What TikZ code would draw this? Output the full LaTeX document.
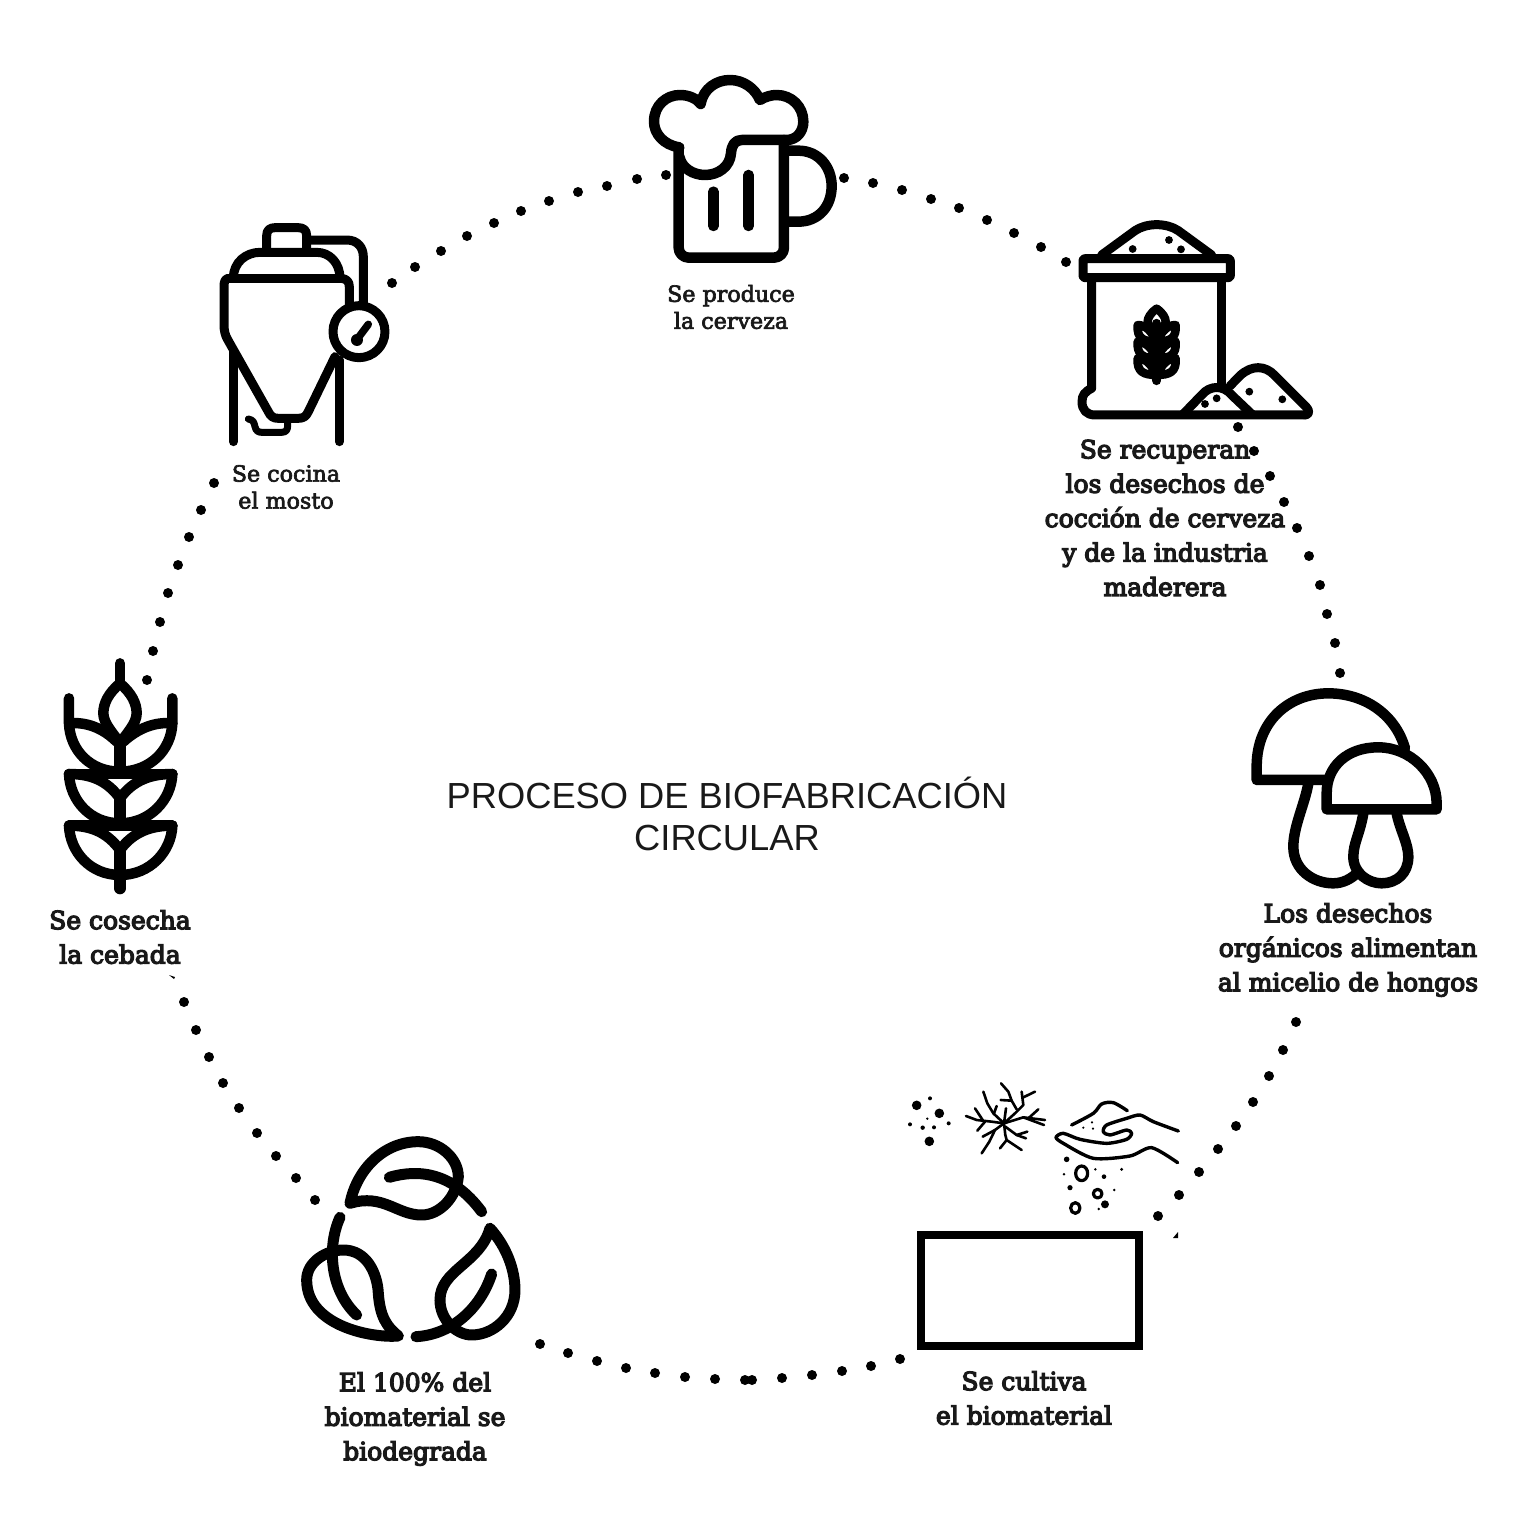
\documentclass[tikz,border=0pt]{standalone}
\usepackage{fontspec}
\setmainfont{Liberation Sans}
\newfontfamily\labf[FakeStretch=1.0,FakeBold=3]{DejaVu Serif}
\newfontfamily\labb[FakeStretch=1.0,FakeBold=5]{DejaVu Serif}
\newfontfamily\titf{Liberation Sans}
\tikzset{
  ink/.style={draw=black,line width=#1,line cap=round,line join=round},
  ink/.default=10pt,
  lab/.style={align=center,inner sep=0pt,font=\labb\fontsize{25}{34.4}\selectfont,text=black!90},
  labs/.style={align=center,inner sep=0pt,font=\labf\fontsize{22.2}{27}\selectfont,text=black!90},
  tit/.style={align=center,inner sep=0pt,font=\titf\fontsize{36.3}{42}\selectfont,text=black!90},
  dot/.style={fill=black,draw=none},
  zoomat/.style 2 args={shift={(#1,#2)},x=0.3333pt,y=-0.3333pt},
}
\begin{document}
\begin{tikzpicture}[x=1pt,y=-1pt]
\useasboundingbox[fill=white] (0,0) rectangle (1530,1537);
% dotted ring
\foreach \px/\py in {392/283,415/267,441/251,467/236,494/223,521/211,549/201,578/192,607/186,637/179,666/175,
 844/178,873/183,902/190,931/199,959/208,987/220,1014/233,1041/247,1066/262,
 1238/427,1254/451,1270/476,1284/502,1297/528,1309/556,1320/585,1327/614,1335/643,1340/673,
 1296/1022,1283/1050,1269/1076,1253/1102,1236/1126,1218/1149,1199/1172,1179/1195,1158/1216,
 900/1359,871/1366,842/1371,812/1375,782/1378,752/1380,745/1380,715/1379,685/1377,655/1373,626/1368,597/1361,568/1353,540/1344,
 315/1200,296/1178,276/1156,257/1133,239/1108,223/1083,209/1057,196/1030,184/1002,
 214/483,201/510,189/537,178/565,168/593,160/622,153/651,147/680}
  {\fill[dot] (\px,\py) circle[radius=5pt];}
\fill[dot] (1173,1238) -- (1178,1232) -- (1178,1238) -- cycle;
\fill[dot] (169,975) -- (175,977) -- (174,979) -- cycle;

% beer
\begin{scope}[zoomat={630}{60}]
\draw[ink=10.5pt] (148,262) .. controls (100,255) and (72,220) .. (72,185)
 .. controls (72,135) and (110,105) .. (150,105) .. controls (175,105) and (200,115) .. (212,132)
 .. controls (220,85) and (260,60) .. (300,60) .. controls (340,60) and (375,85) .. (390,120)
 .. controls (405,110) and (425,105) .. (440,105) .. controls (485,105) and (520,140) .. (520,185)
 .. controls (520,215) and (500,240) .. (470,240) -- (335,240)
 .. controls (315,240) and (305,255) .. (303,280) .. controls (300,320) and (265,345) .. (225,345)
 .. controls (190,345) and (155,325) .. (148,290);
\draw[ink=10.5pt,rounded corners=10pt] (146,262) -- (146,593) -- (462,593) -- (462,240);
\draw[ink=10.5pt] (465,272) -- (505,272) .. controls (565,272) and (605,320) .. (605,378)
 .. controls (605,440) and (565,485) .. (505,485) -- (465,485);
\draw[ink=10.5pt] (250,395) -- (250,498);
\draw[ink=10.5pt] (356,345) -- (356,498);
\end{scope}

% sack
\begin{scope}[zoomat={1060}{210}]
\draw[ink=9pt,rounded corners=2pt] (69,146) rectangle (511,203);
\draw[ink=9pt] (125,135) -- (225,62) .. controls (260,38) and (320,38) .. (355,62) -- (455,135);
\foreach \px/\py in {218/117,327/90,363/118,435/582,470/565,568/545,667/568}
  {\fill[dot] (\px,\py) circle[radius=3.9pt];}
\draw[ink=9pt] (95,205) -- (95,535) .. controls (75,545) and (66,555) .. (66,575)
  .. controls (66,600) and (80,615) .. (105,615) -- (735,615);
\draw[ink=9pt] (486,205) -- (486,525);
\draw[ink=9pt] (370,612) -- (425,555) .. controls (450,525) and (490,525) .. (515,555) -- (575,612);
\draw[ink=9pt] (510,528) -- (540,497) .. controls (575,465) and (615,465) .. (645,497) -- (738,590)
  .. controls (750,602) and (748,615) .. (735,615);
\draw[ink=9pt] (290,340) -- (290,512);
\draw[ink=8.5pt] (290,296) .. controls (270,310) and (263,325) .. (263,335) .. controls (263,350) and (280,365) .. (290,375)
  .. controls (300,365) and (317,350) .. (317,335) .. controls (317,325) and (310,310) .. (290,296) -- cycle;
\foreach \dy in {0,50,100}{
 \begin{scope}[yshift=-\dy*0.3333pt]
 \draw[ink=8.5pt] (290,395) .. controls (275,365) and (258,345) .. (233,345)
   .. controls (230,385) and (250,395) .. (290,395);
 \draw[ink=8.5pt] (290,395) .. controls (305,365) and (322,345) .. (347,345)
   .. controls (350,385) and (330,395) .. (290,395);
 \end{scope}
}
\end{scope}

% tank
\begin{scope}[zoomat={210}{215}]
\draw[ink=9pt] (170,105) -- (170,62) .. controls (170,45) and (180,38) .. (195,38) -- (265,38) .. controls (280,38) and (290,45) .. (290,62) -- (290,105);
\draw[ink=9pt] (70,190) .. controls (70,140) and (110,112) .. (150,112) -- (320,112) .. controls (360,112) and (390,145) .. (390,190);
\draw[ink=9pt] (55,190) -- (395,190);
\draw[ink=9pt] (55,190) .. controls (45,192) and (42,200) .. (42,215) -- (42,330) .. controls (42,345) and (45,360) .. (52,372)
  -- (175,590) .. controls (182,605) and (190,610) .. (205,610) -- (265,610) .. controls (280,610) and (288,605) .. (295,590) -- (375,425);
\draw[ink=9pt] (395,190) .. controls (410,192) and (418,200) .. (418,215) -- (418,280);
\draw[ink=9pt] (295,75) -- (410,75) .. controls (445,75) and (460,100) .. (460,125) -- (460,265);
\draw[draw=white,fill=white] (447,350) circle[radius=78];
\draw[ink=9pt] (447,350) circle[radius=78];
\draw[ink=7.5pt] (475,328) -- (442,372);
\fill[dot] (441,375) circle[radius=6pt];
\draw[ink=9pt] (70,410) -- (70,680);
\draw[ink=9pt] (388,435) -- (388,680);
\draw[ink=7pt] (115,612) .. controls (130,615) and (132,622) .. (135,635) .. controls (138,648) and (145,652) .. (155,652) -- (215,652) .. controls (228,652) and (233,645) .. (233,632) -- (233,615);
\end{scope}

% mushrooms
\begin{scope}[zoomat={1240}{670}]
\draw[ink=10.5pt] (495,235) .. controls (465,130) and (370,70) .. (265,70) .. controls (150,70) and (50,150) .. (50,290) -- (50,330) -- (265,330);
\draw[ink=10.5pt] (260,418) -- (260,370) .. controls (260,290) and (320,232) .. (415,232) .. controls (510,232) and (590,310) .. (590,400) -- (590,418) -- cycle;
\draw[ink=10.5pt] (205,340) .. controls (195,400) and (160,470) .. (160,530) .. controls (160,600) and (220,640) .. (280,640) .. controls (310,640) and (335,625) .. (350,610);
\draw[ink=10.5pt] (370,430) .. controls (360,490) and (340,520) .. (340,560) .. controls (340,610) and (385,640) .. (425,640) .. controls (470,640) and (505,610) .. (505,560) .. controls (505,520) and (480,480) .. (470,430);
\end{scope}

% wheat
\begin{scope}[zoomat={50}{650}]
\draw[ink=10.5pt] (210,40) -- (210,100);
\draw[ink=10.5pt] (210,100) .. controls (175,130) and (160,160) .. (160,190) .. controls (160,220) and (190,250) .. (210,280)
  .. controls (230,250) and (260,220) .. (260,190) .. controls (260,160) and (245,130) .. (210,100);
\draw[ink=12pt] (210,280) -- (210,368);
\draw[ink=12pt] (210,445) -- (210,522);
\draw[ink=12pt] (210,600) -- (210,715);
\draw[ink=10.5pt] (57,145) -- (57,220) .. controls (60,300) and (120,365) .. (210,365);
\draw[ink=10.5pt] (367,145) -- (367,220) .. controls (364,300) and (300,365) .. (210,365);
\draw[ink=10.5pt] (57,220) .. controls (110,215) and (160,235) .. (200,275);
\draw[ink=10.5pt] (367,220) .. controls (314,215) and (264,235) .. (220,275);
\draw[ink=10.5pt] (57,372) -- (367,372);
\draw[ink=10.5pt] (57,527) -- (367,527);
\foreach \dy in {0,155}{
\begin{scope}[yshift=-\dy*0.3333pt]
\draw[ink=10.5pt] (57,372) .. controls (60,450) and (120,520) .. (210,520) .. controls (300,520) and (364,450) .. (367,372);
\draw[ink=10.5pt] (57,372) .. controls (120,372) and (170,390) .. (210,445) .. controls (250,390) and (304,372) .. (367,372);
\end{scope}}
\end{scope}

% recycling leaves
\begin{scope}[zoomat={290}{1130}]
\draw[ink=11pt] (180,220) .. controls (200,120) and (280,35) .. (385,35) .. controls (450,35) and (505,85) .. (505,140) .. controls (500,200) and (450,255) .. (395,255) .. controls (320,255) and (280,190) .. (180,220);
\draw[ink=11pt] (298,142) .. controls (390,115) and (490,130) .. (575,245);
\draw[ink=11pt] (325,618) .. controls (250,625) and (50,590) .. (50,450) .. controls (50,395) and (110,360) .. (160,360) .. controls (230,360) and (262,430) .. (265,490) .. controls (270,560) and (290,590) .. (325,618);
\draw[ink=11pt] (150,262) .. controls (110,350) and (120,480) .. (200,555);
\draw[ink=11pt] (600,295) .. controls (650,350) and (675,420) .. (675,480) .. controls (675,560) and (610,615) .. (545,615) .. controls (500,615) and (450,570) .. (450,510) .. controls (450,420) and (570,400) .. (600,295);
\draw[ink=11pt] (378,620) .. controls (480,615) and (570,540) .. (605,432);
\end{scope}

% spores, mycelium, hand
\begin{scope}[zoomat={900}{1080}]
\foreach \px/\py/\r in {50/76/4.8,118/100/4.8,88/184/4.8,90/55/2,30/133/2,68/143/2.2,102/142/2,146/130/2,82/116/1.3,
  500/238/2.8,612/290/2.3,510/323/2.6,615/373/4,492/283/1.4,586/268/1.4,665/268/1.6,643/330/1.4,596/387/1.4,550/143/1.2,576/127/1.2,579/146/1.2}
  {\fill[dot] (\px,\py) circle[radius=\r pt];}
\foreach \pth in {
  {(312,130) -- (275,125) -- (230,120) -- (198,108)},
  {(250,123) -- (225,85)},
  {(255,125) -- (232,152)},
  {(312,130) -- (280,100) -- (262,70) -- (250,35)},
  {(282,100) -- (290,78)},
  {(312,130) -- (318,85)},
  {(312,130) -- (345,100) -- (370,75) -- (365,35)},
  {(370,52) -- (405,35)},
  {(302,60) -- (335,62) -- (350,88)},
  {(335,62) -- (325,35) -- (303,10)},
  {(312,130) -- (370,112) -- (435,120)},
  {(385,115) -- (415,88)},
  {(370,112) -- (432,135)},
  {(312,130) -- (316,165) -- (320,180) -- (365,210)},
  {(320,180) -- (300,205)},
  {(316,140) -- (350,165) -- (382,155)},
  {(350,165) -- (378,175)},
  {(312,130) -- (285,150) -- (268,185) -- (245,220)},
  {(285,150) -- (248,170)}}
  {\draw[ink=2.6pt] \pth;}
\draw[ink=3.4pt] plot[smooth,tension=0.5] coordinates {(515,135) (580,100) (605,72) (640,68) (682,92)};
\draw[ink=3.4pt] plot[smooth,tension=0.45] coordinates {(835,153) (760,125) (720,105) (680,115) (620,135) (610,155) (630,165) (680,150) (695,160) (680,178) (620,190) (540,178) (490,160) (468,172) (490,190) (580,235) (690,228) (755,203) (833,248)};
\draw[ink=3.2pt] (545,280) ellipse[x radius=18,y radius=22];
\draw[ink=3.2pt] (593,341) ellipse[x radius=13,y radius=13];
\draw[ink=3.2pt] (526,384) ellipse[x radius=14,y radius=16];
\end{scope}
\draw[ink=7.5pt,line cap=butt,line join=miter] (921,1235) rectangle (1139,1346);

% labels
\node[labs] (a) at (731,307) {Se produce\\la cerveza};
\node[labs] (b) at (286,487) {Se cocina\\el mosto};
\node[lab] (c) at (1165,518) {Se recuperan\\los desechos de\\cocción de cerveza\\y de la industria\\maderera};
\node[lab] (d) at (1348,950) {Los desechos\\orgánicos alimentan\\al micelio de hongos};
\node[lab] (e) at (1024,1398) {Se cultiva\\el biomaterial};
\node[lab] (f) at (415,1419) {El 100\% del\\biomaterial se\\biodegrada};
\node[lab] (g) at (120,937) {Se cosecha\\la cebada};
\node[tit] (t) at (727,814) {PROCESO DE BIOFABRICACIÓN\\CIRCULAR};
\end{tikzpicture}
\end{document}
